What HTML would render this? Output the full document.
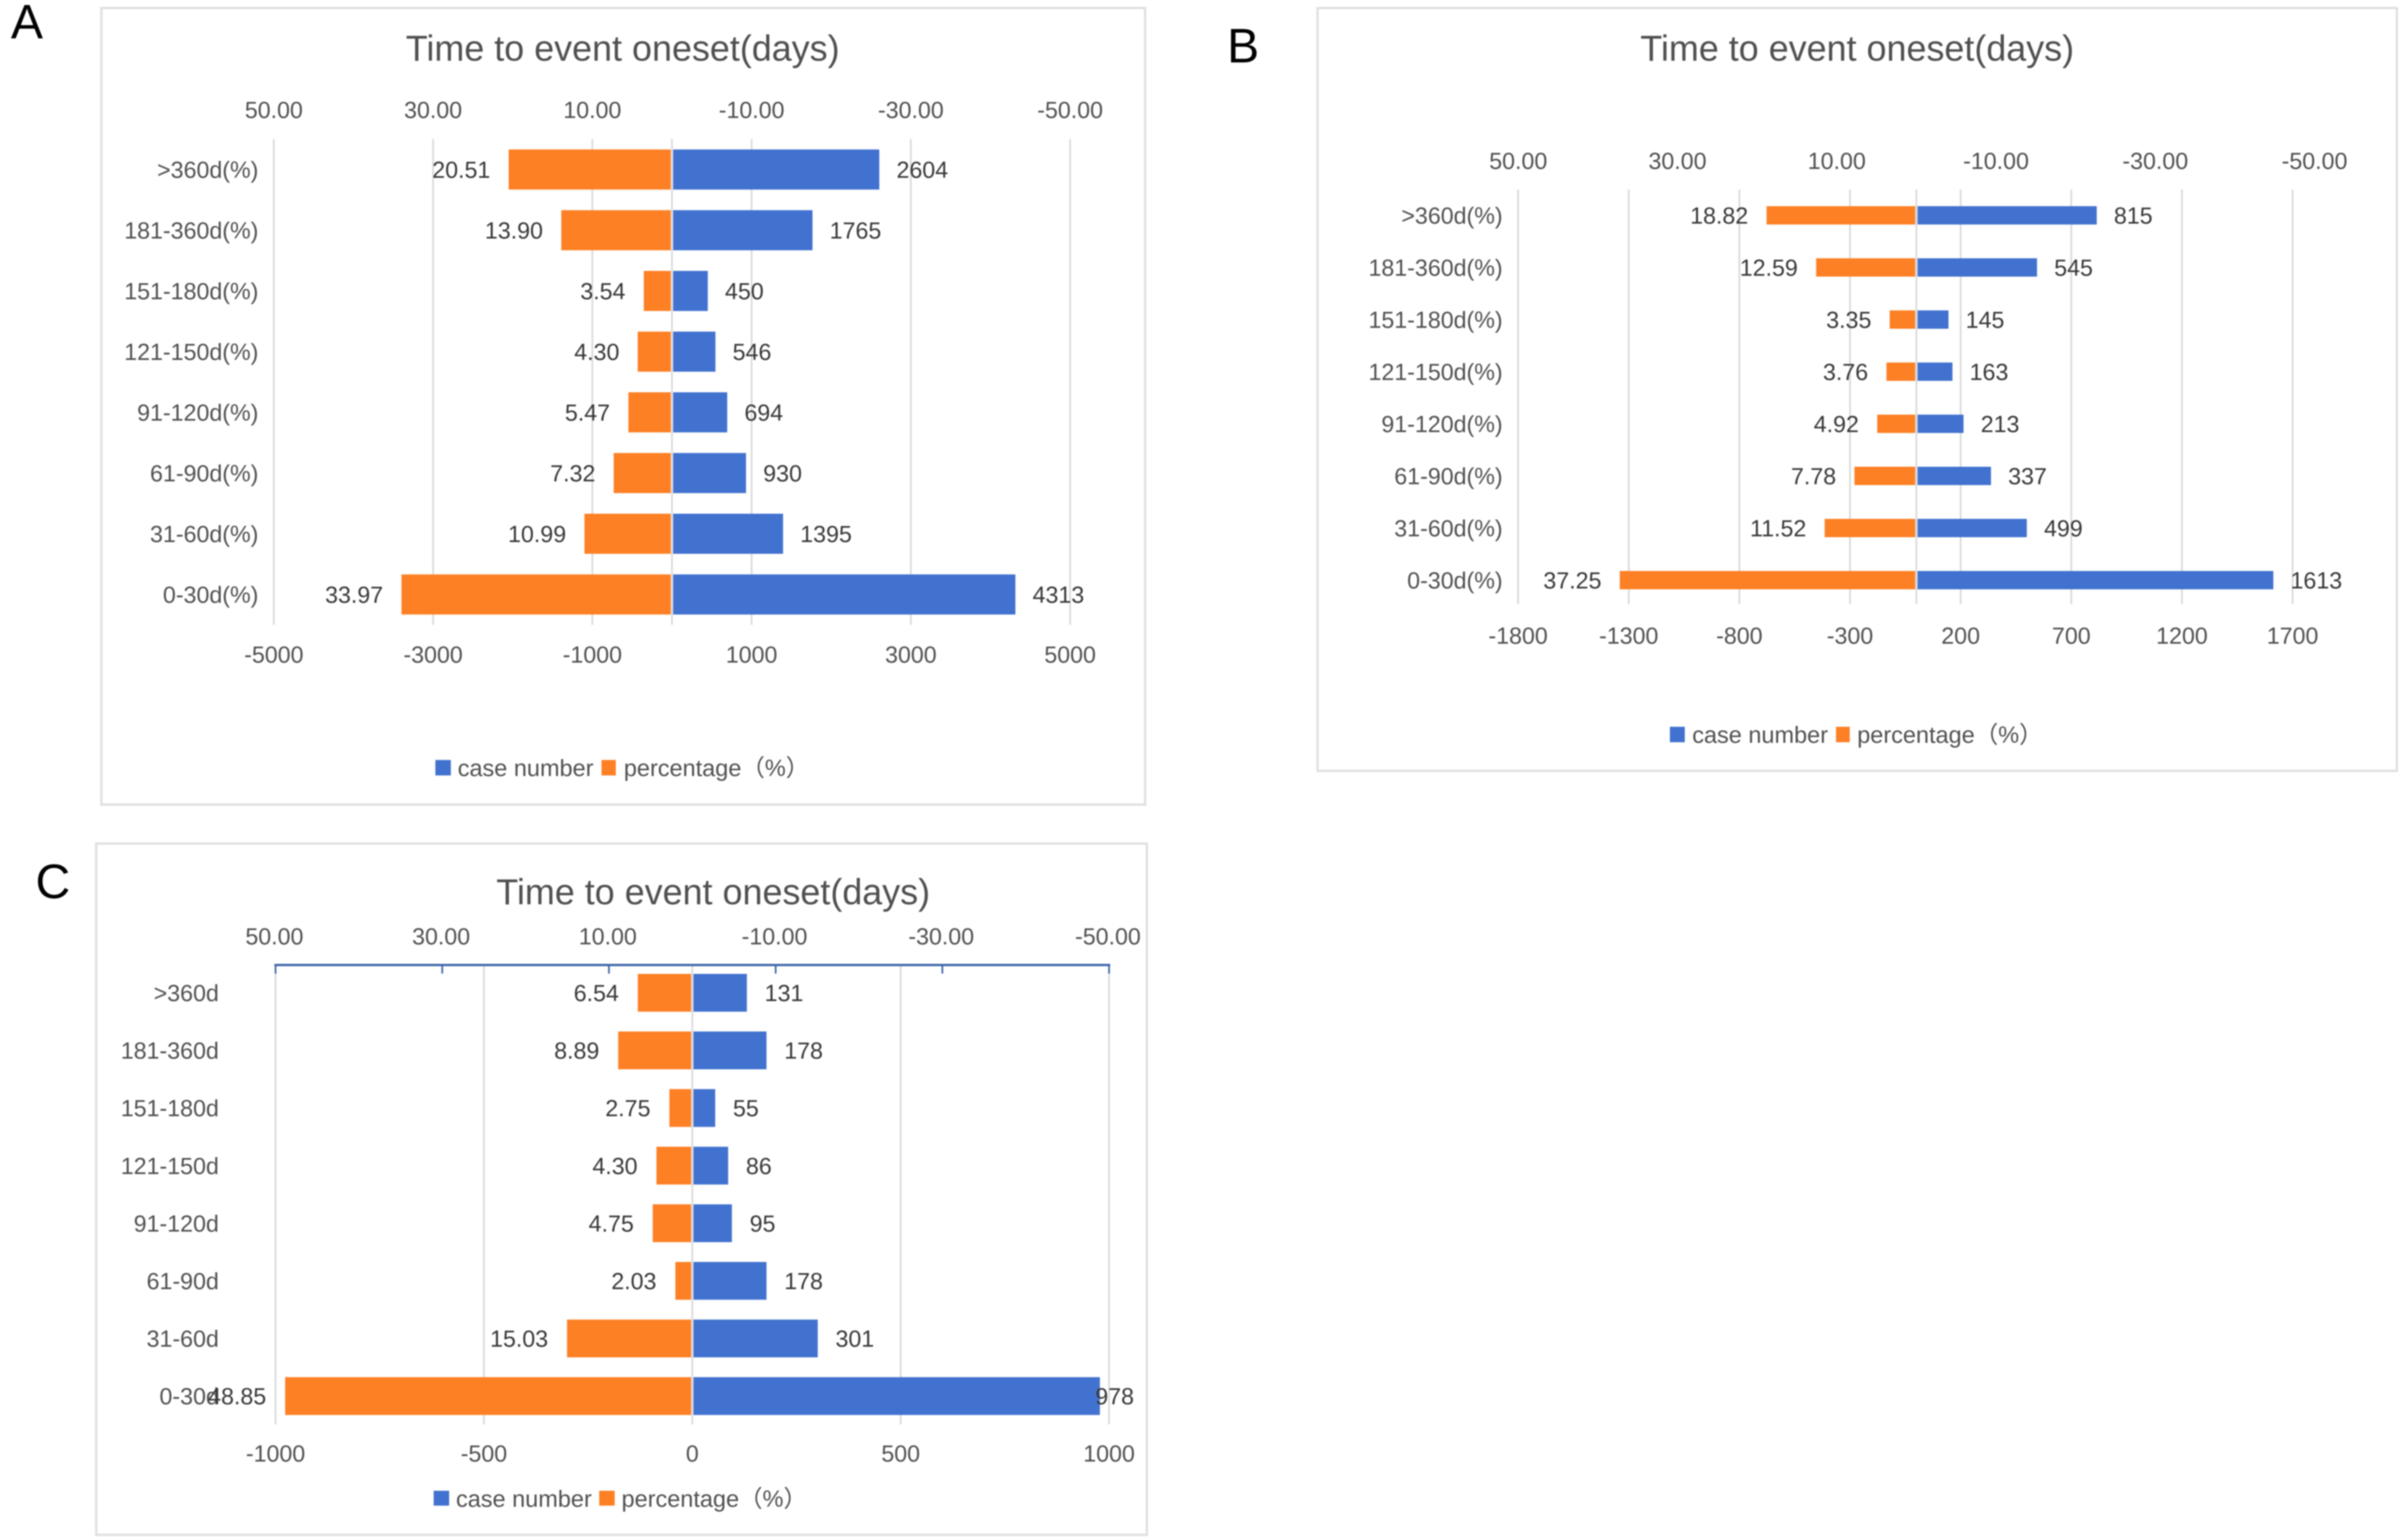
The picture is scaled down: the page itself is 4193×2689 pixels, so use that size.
<!DOCTYPE html>
<html lang="en">
<head>
<meta charset="utf-8">
<title>Time to event onset charts</title>
<style>
  html, body { margin: 0; padding: 0; background: #ffffff; }
  body { width: 4193px; height: 2689px; overflow: hidden; }
  svg { display: block; filter: blur(1px); }
  text { font-family: "Liberation Sans", "Noto Sans CJK SC", sans-serif; }
  .title { font-size: 62.7px; fill: #505050; text-anchor: middle; dominant-baseline: central; }
  .tick { font-size: 40.5px; fill: #505050; text-anchor: middle; dominant-baseline: central; }
  .cat { font-size: 40.5px; fill: #505050; text-anchor: end; dominant-baseline: central; }
  .val { font-size: 40.5px; fill: #383838; dominant-baseline: central; }
  .leg { font-size: 41px; fill: #505050; dominant-baseline: central; }
  .letter { font-size: 84px; fill: #000000; }
</style>
</head>
<body>
<svg id="figure" xmlns="http://www.w3.org/2000/svg" width="4193" height="2689" viewBox="0 0 4193 2689">
  <rect x="0" y="0" width="4193" height="2689" fill="#ffffff"/>

  <g id="panel-a">
    <rect x="177" y="14" width="1822" height="1391" fill="#ffffff" stroke="#e0e0e0" stroke-width="4"/>
    <text class="title" x="1087" y="85">Time to event oneset(days)</text>
    <rect x="760" y="1327" width="27" height="27" fill="#4272cf"/>
    <text class="leg" x="799" y="1341">case number</text>
    <rect x="1050" y="1327" width="25" height="27" fill="#fd8025"/>
    <text class="leg" x="1089" y="1341">percentage（%）</text>
  </g>
  <g id="panel-b">
    <rect x="2300" y="14" width="1884" height="1332" fill="#ffffff" stroke="#e0e0e0" stroke-width="4"/>
    <text class="title" x="3242" y="85">Time to event oneset(days)</text>
    <rect x="2915" y="1269" width="26" height="27" fill="#4272cf"/>
    <text class="leg" x="2954" y="1283">case number</text>
    <rect x="3205" y="1269" width="24" height="27" fill="#fd8025"/>
    <text class="leg" x="3242" y="1283">percentage（%）</text>
  </g>
  <g id="panel-c">
    <rect x="168" y="1473" width="1834" height="1207" fill="#ffffff" stroke="#e0e0e0" stroke-width="4"/>
    <text class="title" x="1245" y="1558">Time to event oneset(days)</text>
    <rect x="757" y="2603" width="27" height="26" fill="#4272cf"/>
    <text class="leg" x="796" y="2617">case number</text>
    <rect x="1046" y="2603" width="27" height="26" fill="#fd8025"/>
    <text class="leg" x="1085" y="2617">percentage（%）</text>
  </g>

  <text class="letter" x="19" y="67">A</text>
  <text class="letter" x="2142" y="109">B</text>
  <text class="letter" x="62" y="1568">C</text>
</svg>

<script>
// ---- Panel A data ----
const categoriesA = [">360d(%)", "181-360d(%)", "151-180d(%)", "121-150d(%)", "91-120d(%)", "61-90d(%)", "31-60d(%)", "0-30d(%)"];
const casesA = [2604, 1765, 450, 546, 694, 930, 1395, 4313];
const percentA = [20.51, 13.90, 3.54, 4.30, 5.47, 7.32, 10.99, 33.97];
const caseTicksA = [-5000, -3000, -1000, 1000, 3000, 5000];
const percentTicksA = [50, 30, 10, -10, -30, -50];

// ---- Panel B data ----
const categoriesB = [">360d(%)", "181-360d(%)", "151-180d(%)", "121-150d(%)", "91-120d(%)", "61-90d(%)", "31-60d(%)", "0-30d(%)"];
const casesB = [815, 545, 145, 163, 213, 337, 499, 1613];
const percentB = [18.82, 12.59, 3.35, 3.76, 4.92, 7.78, 11.52, 37.25];
const caseTicksB = [-1800, -1300, -800, -300, 200, 700, 1200, 1700];
const percentTicksB = [50, 30, 10, -10, -30, -50];

// ---- Panel C data ----
const categoriesC = [">360d", "181-360d", "151-180d", "121-150d", "91-120d", "61-90d", "31-60d", "0-30d"];
const casesC = [131, 178, 55, 86, 95, 178, 301, 978];
const percentC = [6.54, 8.89, 2.75, 4.30, 4.75, 2.03, 15.03, 48.85];
const caseTicksC = [-1000, -500, 0, 500, 1000];
const percentTicksC = [50, 30, 10, -10, -30, -50];

const SVG_NS = "http://www.w3.org/2000/svg";
const BLUE = "#4272cf";
const ORANGE = "#fd8025";
const GRID = "#d9d9d9";

function makeLine(parent, x1, y1, x2, y2, color, width) {
  const el = document.createElementNS(SVG_NS, "line");
  el.setAttribute("x1", x1);
  el.setAttribute("y1", y1);
  el.setAttribute("x2", x2);
  el.setAttribute("y2", y2);
  el.setAttribute("stroke", color);
  el.setAttribute("stroke-width", width);
  parent.appendChild(el);
  return el;
}

function makeRect(parent, x, y, w, h, color) {
  const el = document.createElementNS(SVG_NS, "rect");
  el.setAttribute("x", x);
  el.setAttribute("y", y);
  el.setAttribute("width", Math.max(0, w));
  el.setAttribute("height", h);
  el.setAttribute("fill", color);
  parent.appendChild(el);
  return el;
}

function makeText(parent, cls, str, x, y, anchor) {
  const el = document.createElementNS(SVG_NS, "text");
  el.setAttribute("class", cls);
  el.setAttribute("x", x);
  el.setAttribute("y", y);
  if (anchor) el.style.textAnchor = anchor;
  el.textContent = str;
  parent.appendChild(el);
  return el;
}

function drawPanel(panelId, categories, cases, percent, caseTicks, percentTicks, layout) {
  const root = document.getElementById(panelId);
  const caseX = v => layout.caseX0 + (v - layout.caseMin) * (layout.caseX1 - layout.caseX0) / (layout.caseMax - layout.caseMin);
  const zeroX = caseX(0);
  // Percentage axis runs from +50 on the left to -50 on the right, centred on the shared zero.
  const percentX = v => zeroX - v * layout.percentPx;
  const rowY = i => layout.rowTop + i * layout.rowStep;

  caseTicks.forEach(t => {
    const grid = makeLine(root, caseX(t), layout.gridTop, caseX(t), layout.gridBottom, GRID, 3);
    
    
    const label = makeText(root, "tick", String(t), caseX(t), layout.bottomLabelY);
    
    
  });

  const zeroLine = makeLine(root, zeroX, layout.gridTop, zeroX, layout.gridBottom, GRID, 3);
  
  

  percentTicks.forEach(t => {
    const label = makeText(root, "tick", t.toFixed(2), percentX(t) + layout.topLabelDx, layout.topLabelY);
    
    
  });

  if (layout.topAxisY) {
    const axis = makeLine(root, percentX(percentTicks[0]) - 2, layout.topAxisY, percentX(percentTicks[percentTicks.length - 1]) + 2, layout.topAxisY, "#4067ab", 4);
    
    
    percentTicks.forEach(t => {
      const tick = makeLine(root, percentX(t), layout.topAxisY, percentX(t), layout.topAxisY + 15, "#4067ab", 3);
      
      
    });
  }

  categories.forEach((cat, i) => {
    const y = rowY(i);
    const textY = y + 0.5;
    const catLabel = makeText(root, "cat", cat, layout.catRight, textY);
    
    

    const orangeLeft = percentX(percent[i]);
    const orangeBar = makeRect(root, orangeLeft, y - layout.barH / 2, zeroX - 2 - orangeLeft, layout.barH, ORANGE);
    
    

    const blueRight = caseX(cases[i]);
    const blueBar = makeRect(root, zeroX + 2, y - layout.barH / 2, blueRight - zeroX - 2, layout.barH, BLUE);
    
    

    const pctLabel = makeText(root, "val", percent[i].toFixed(2), orangeLeft - layout.pctGap, textY, "end");
    
    

    const caseLabelX = Math.min(blueRight + layout.caseGap, layout.caseLabelMaxX);
    const caseLabel = makeText(root, "val", String(cases[i]), caseLabelX, textY, "start");
    
    
  });
}

drawPanel("panel-a", categoriesA, casesA, percentA, caseTicksA, percentTicksA, {
  caseMin: -5000, caseMax: 5000, caseX0: 478, caseX1: 1868, percentPx: 13.9,
  gridTop: 243, gridBottom: 1091, rowTop: 296, rowStep: 106, barH: 70,
  topLabelY: 192, topLabelDx: 0, bottomLabelY: 1143, catRight: 451, pctGap: 32, caseGap: 30,
  caseLabelMaxX: 99999, topAxisY: 0
});

drawPanel("panel-b", categoriesB, casesB, percentB, caseTicksB, percentTicksB, {
  caseMin: -1800, caseMax: 1700, caseX0: 2650, caseX1: 4002, percentPx: 13.9,
  gridTop: 331, gridBottom: 1055, rowTop: 376, rowStep: 91, barH: 32,
  topLabelY: 281, topLabelDx: 0, bottomLabelY: 1110, catRight: 2623, pctGap: 32, caseGap: 30,
  caseLabelMaxX: 99999, topAxisY: 0
});

drawPanel("panel-c", categoriesC, casesC, percentC, caseTicksC, percentTicksC, {
  caseMin: -1000, caseMax: 1000, caseX0: 481, caseX1: 1936, percentPx: 14.55,
  gridTop: 1685, gridBottom: 2487, rowTop: 1733.5, rowStep: 100.6, barH: 66,
  topLabelY: 1635, topLabelDx: -2, bottomLabelY: 2538, catRight: 382, pctGap: 33, caseGap: 31,
  caseLabelMaxX: 1912, topAxisY: 1685
});
</script>
</body>
</html>
